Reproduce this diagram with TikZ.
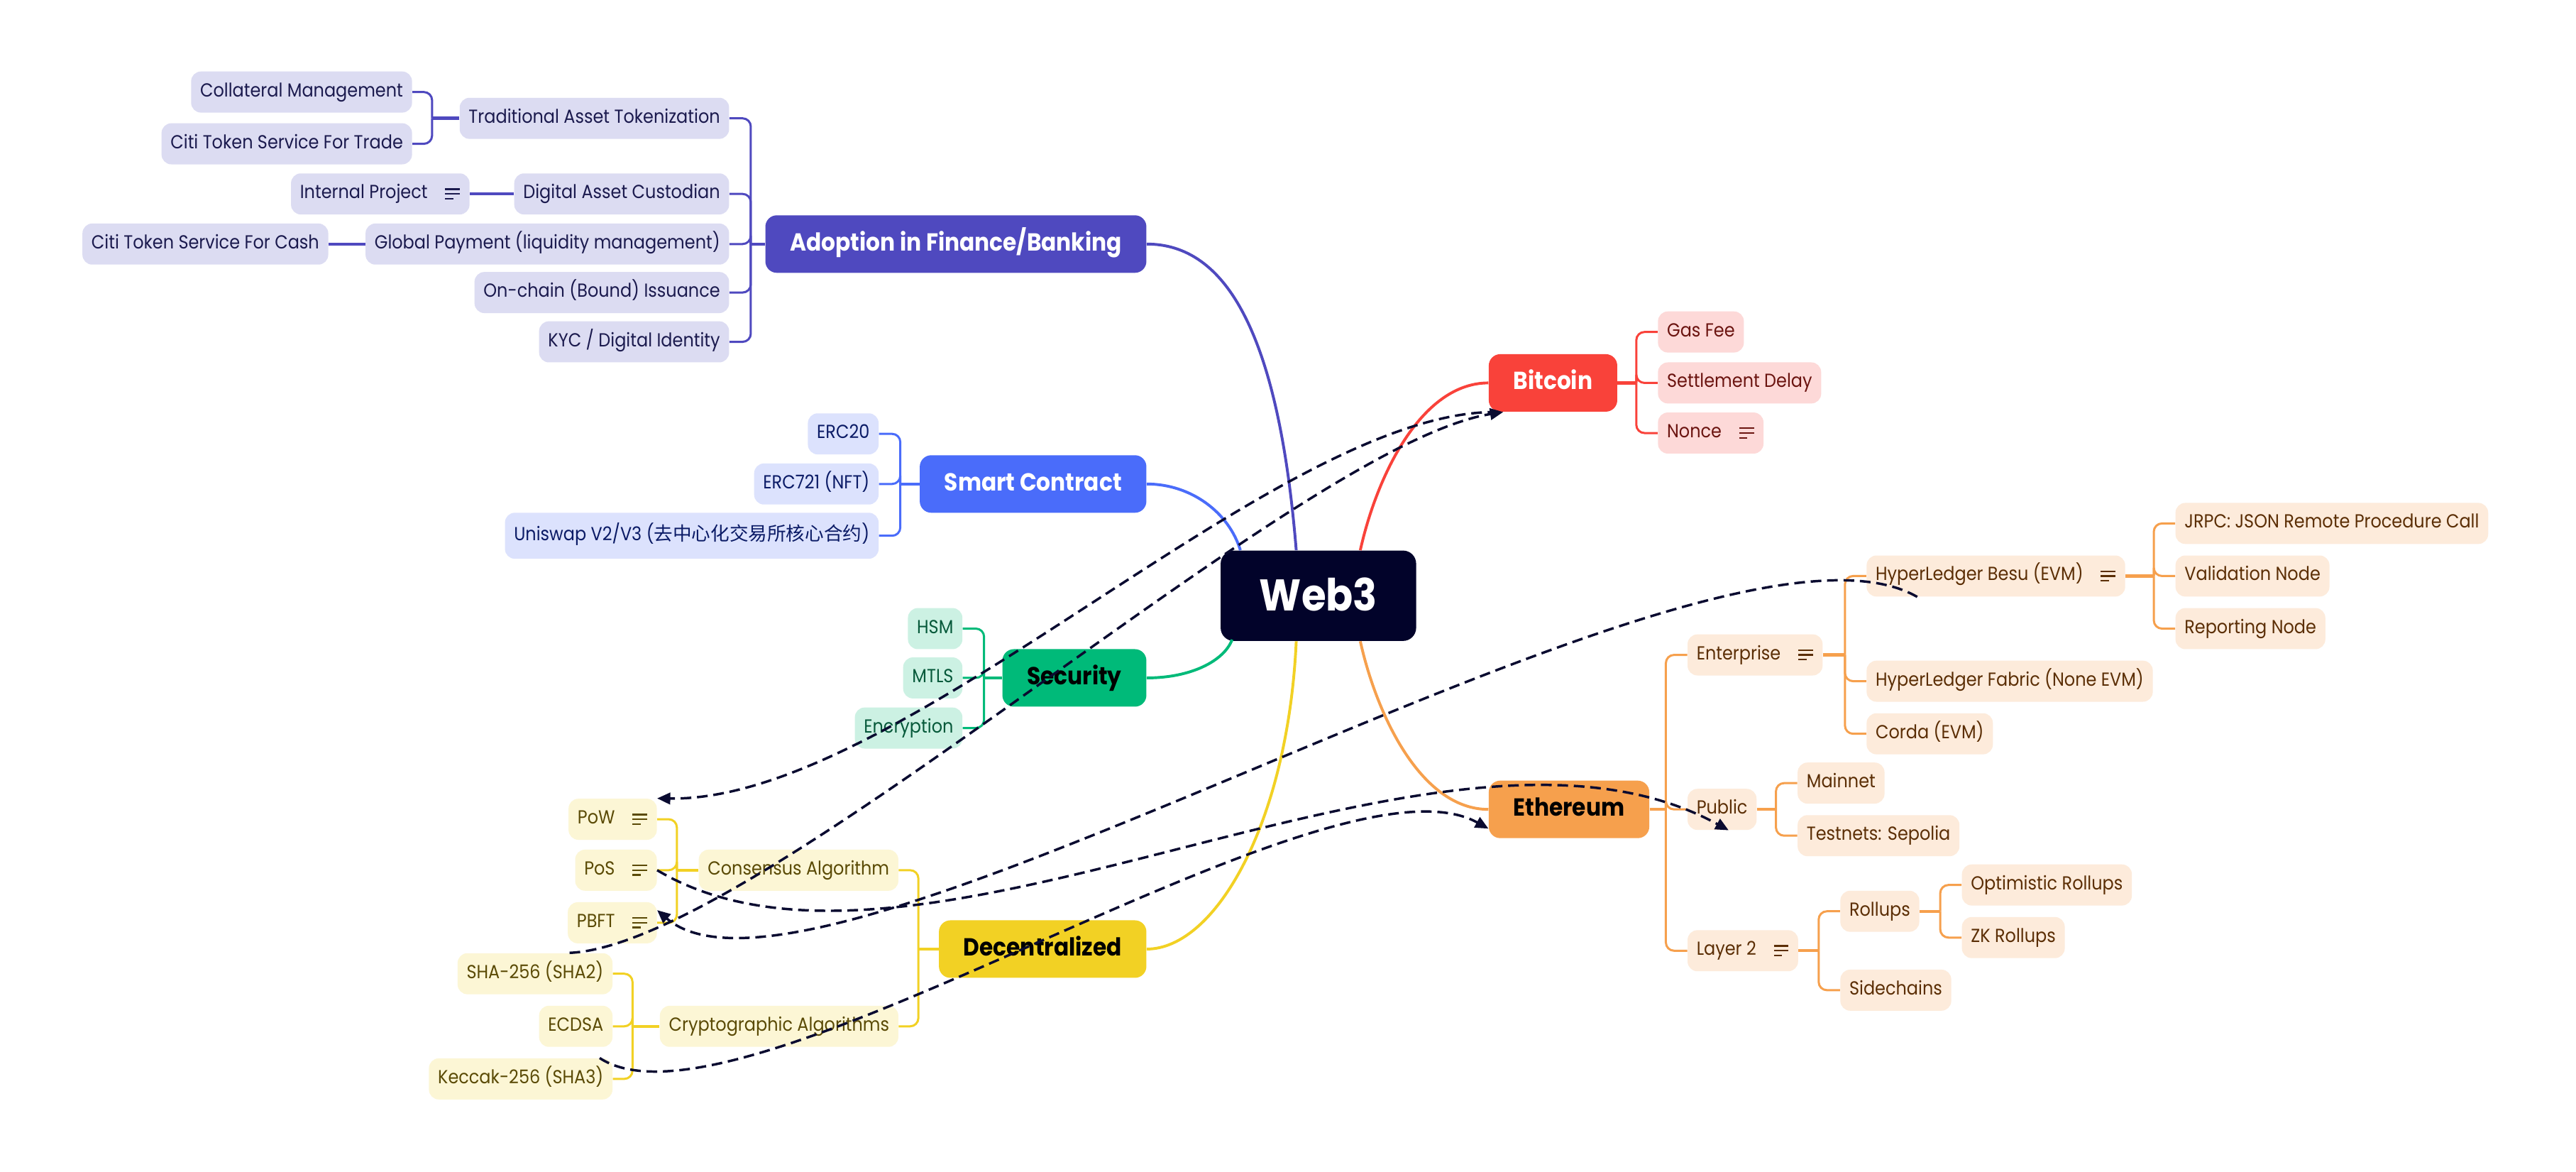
\documentclass[tikz,border=0pt]{standalone}
\usepackage{fontspec}
\setmainfont{Poppins}[FakeStretch=0.9]
\newfontfamily\cjk{Noto Sans CJK SC}
\usetikzlibrary{calc,arrows.meta}

\definecolor{rootc}{HTML}{02032A}
\definecolor{finc}{HTML}{4F49BF}
\definecolor{finl}{HTML}{DCDCF2}
\definecolor{fint}{HTML}{1B1A4E}
\definecolor{scc}{HTML}{4A6CFA}
\definecolor{scl}{HTML}{DCE2FD}
\definecolor{sct}{HTML}{0B1B66}
\definecolor{secc}{HTML}{00BA79}
\definecolor{secl}{HTML}{CCF1E3}
\definecolor{sect}{HTML}{06593A}
\definecolor{decc}{HTML}{F2D124}
\definecolor{decl}{HTML}{FCF6D5}
\definecolor{dect}{HTML}{5A4A05}
\definecolor{btcc}{HTML}{F9423A}
\definecolor{btcl}{HTML}{FDD9D8}
\definecolor{btct}{HTML}{6B1410}
\definecolor{ethc}{HTML}{F6A04D}
\definecolor{ethl}{HTML}{FDEBDB}
\definecolor{etht}{HTML}{5B2E05}
\definecolor{relc}{HTML}{0A0B30}

\tikzset{
  root/.style={fill=rootc,text=white,rounded corners=8pt,minimum width=119pt,minimum height=55pt,
    text height=19pt,text depth=1pt,font=\fontsize{27}{30}\selectfont\bfseries},
  topic/.style={fill=#1,rounded corners=7pt,minimum height=35pt,inner xsep=15pt,inner ysep=0pt,
    text height=11pt,text depth=3pt,font=\fontsize{15}{18}\selectfont\bfseries},
  leaf/.style={fill=#1,rounded corners=6pt,minimum height=25pt,inner xsep=5.5pt,inner ysep=0pt,
    text height=8.3pt,text depth=2.7pt,font=\fontsize{11.5}{13}\selectfont},
  finleaf/.style={leaf=finl,text=fint},
  scleaf/.style={leaf=scl,text=sct},
  secleaf/.style={leaf=secl,text=sect},
  decleaf/.style={leaf=decl,text=dect},
  btcleaf/.style={leaf=btcl,text=btct},
  ethleaf/.style={leaf=ethl,text=etht},
  branch/.style={draw=#1,line width=1.7pt},
  stub/.style={draw=#1,line width=1.9pt},
  twig/.style={draw=#1,line width=1.3pt,rounded corners=5pt},
  rel/.style={draw=relc,line width=1.5pt,dash pattern=on 6.5pt off 3.5pt,-{Triangle[length=8pt,width=7pt]}},
  noteicon/.pic={\draw[line width=1pt] (-4.5,-2.9) -- (4.5,-2.9) (-4.5,0) -- (4.5,0) (-4.5,2.9) -- (0.5,2.9);}
}
\newcommand\gap{\hspace*{20pt}}

\begin{document}
\begin{tikzpicture}[x=1pt,y=-1pt]
        \useasboundingbox (0,0) rectangle (1568,713);
        \fill[white] (0,0) rectangle (1568,713);
        \node[root] (web3) at (802.5,362.5) {Web3};

        \node[topic=finc,text=white,anchor=east] (fin) at (698,148.5) {Adoption in Finance/Banking};
        \node[finleaf,anchor=east] (trad) at (444,72) {Traditional Asset Tokenization};
        \node[finleaf,anchor=east] (custod) at (444,118) {Digital Asset Custodian};
        \node[finleaf,anchor=east] (gpay) at (444,148.5) {Global Payment (liquidity management)};
        \node[finleaf,anchor=east] (onchain) at (444,178) {On-chain (Bound) Issuance};
        \node[finleaf,anchor=east] (kyc) at (444,208) {KYC / Digital Identity};
        \node[finleaf,anchor=east] (collat) at (251,56) {Collateral Management};
        \node[finleaf,anchor=east] (ctstrade) at (251,87.5) {Citi Token Service For Trade};
        \node[finleaf,anchor=east] (intproj) at (286,118) {Internal Project\gap};
        \node[finleaf,anchor=east] (ctscash) at (200,148.5) {Citi Token Service For Cash};

        \node[topic=scc,text=white,anchor=east] (sc) at (698,294.5) {Smart Contract};
        \node[scleaf,anchor=east] (erc20) at (535,264) {ERC20};
        \node[scleaf,anchor=east] (erc721) at (535,294.5) {ERC721 (NFT)};
        \node[scleaf,anchor=east,minimum height=28pt] (uniswap) at (535,326) {Uniswap V2/V3 ({\cjk 去中心化交易所核心合约})};

        \node[topic=secc,text=black,anchor=east] (sec) at (698,412.5) {Security};
        \node[secleaf,anchor=east] (hsm) at (586,382.5) {HSM};
        \node[secleaf,anchor=east] (mtls) at (586,412.5) {MTLS};
        \node[secleaf,anchor=east] (encrypt) at (586,443) {Encryption};

        \node[topic=decc,text=black,anchor=east] (dec) at (698,577.5) {Decentralized};
        \node[decleaf,anchor=east] (consensus) at (547,529.5) {Consensus Algorithm};
        \node[decleaf,anchor=east] (crypto) at (547,624.5) {Cryptographic Algorithms};
        \node[decleaf,anchor=east] (pow) at (400,498.5) {PoW\gap};
        \node[decleaf,anchor=east] (pos) at (400,529.5) {PoS\gap};
        \node[decleaf,anchor=east] (pbft) at (400,561.5) {PBFT\gap};
        \node[decleaf,anchor=east] (sha2) at (373,592.5) {SHA-256 (SHA2)};
        \node[decleaf,anchor=east] (ecdsa) at (373,624.5) {ECDSA};
        \node[decleaf,anchor=east] (keccak) at (373,656.5) {Keccak-256 (SHA3)};

        \node[topic=btcc,text=white,anchor=west] (btc) at (906,233) {Bitcoin};
        \node[btcleaf,anchor=west] (gasfee) at (1009,202) {Gas Fee};
        \node[btcleaf,anchor=west] (settle) at (1009,233) {Settlement Delay};
        \node[btcleaf,anchor=west] (nonce) at (1009,263.5) {Nonce\gap};

        \node[topic=ethc,text=black,anchor=west] (eth) at (906,492.5) {Ethereum};
        \node[ethleaf,anchor=west] (enterprise) at (1027,398.5) {Enterprise\gap};
        \node[ethleaf,anchor=west] (public) at (1027,492.5) {Public};
        \node[ethleaf,anchor=west] (layer2) at (1027,578.5) {Layer 2\gap};
        \node[ethleaf,anchor=west] (besu) at (1136,350.5) {HyperLedger Besu (EVM)\gap};
        \node[ethleaf,anchor=west] (fabric) at (1136,414.5) {HyperLedger Fabric (None EVM)};
        \node[ethleaf,anchor=west] (corda) at (1136,446.5) {Corda (EVM)};
        \node[ethleaf,anchor=west] (jrpc) at (1324,318.5) {JRPC: JSON Remote Procedure Call};
        \node[ethleaf,anchor=west] (validnode) at (1324,350.5) {Validation Node};
        \node[ethleaf,anchor=west] (reportnode) at (1324,382.5) {Reporting Node};
        \node[ethleaf,anchor=west] (mainnet) at (1094,476.5) {Mainnet};
        \node[ethleaf,anchor=west] (sepolia) at (1094,508.5) {Testnets: Sepolia};
        \node[ethleaf,anchor=west] (rollups) at (1120,554.5) {Rollups};
        \node[ethleaf,anchor=west] (sidechains) at (1120,602.5) {Sidechains};
        \node[ethleaf,anchor=west] (optroll) at (1194,538.5) {Optimistic Rollups};
        \node[ethleaf,anchor=west] (zkroll) at (1194,570.5) {ZK Rollups};

        \foreach \n/\col in {intproj/fint,pow/dect,pos/dect,pbft/dect,nonce/btct,enterprise/etht,besu/etht,layer2/etht}
                \pic[color=\col] at ([xshift=-10.5pt]\n.east) {noteicon};

        \draw[branch=finc] ($(web3.north)+(-13.5,0)$) .. controls +(-11,-135) and +(47,0) .. (fin.east);
        \draw[branch=scc] ($(web3.north)+(-47.5,0)$) .. controls +(-7,-23) and +(27,0) .. (sc.east);
        \draw[branch=secc] ($(web3.south)+(-52.5,-1)$) .. controls +(-5,13) and +(27,0) .. (sec.east);
        \draw[branch=decc] ($(web3.south)+(-13.5,0)$) .. controls +(-5,110) and +(42,0) .. (dec.east);
        \draw[branch=btcc] ($(web3.north)+(25.5,0)$) .. controls +(10,-45) and +(-41,0) .. (btc.west);
        \draw[branch=ethc] ($(web3.south)+(25.5,0)$) .. controls +(10,45) and +(-41,0) .. (eth.west);

        \coordinate (finS) at ($(fin.west -| trad.east)+(13,0)$);
        \draw[stub=finc] (fin.west) -- (finS);
        \foreach \c in {trad,custod,gpay,onchain,kyc} \draw[twig=finc] (finS) |- (\c.east);
        \coordinate (tradS) at ($(trad.west -| collat.east)+(12,0)$);
        \draw[stub=finc] (trad.west) -- (tradS);
        \foreach \c in {collat,ctstrade} \draw[twig=finc] (tradS) |- (\c.east);
        \draw[stub=finc] (custod.west) -- (intproj.east);
        \draw[stub=finc] (gpay.west) -- (ctscash.east);

        \coordinate (scS) at ($(sc.west -| erc20.east)+(13,0)$);
        \draw[stub=scc] (sc.west) -- (scS);
        \foreach \c in {erc20,erc721,uniswap} \draw[twig=scc] (scS) |- (\c.east);

        \coordinate (secS) at ($(sec.west -| hsm.east)+(13,0)$);
        \draw[stub=secc] (sec.west) -- (secS);
        \foreach \c in {hsm,mtls,encrypt} \draw[twig=secc] (secS) |- (\c.east);

        \coordinate (decS) at ($(dec.west -| consensus.east)+(12,0)$);
        \draw[stub=decc] (dec.west) -- (decS);
        \foreach \c in {consensus,crypto} \draw[twig=decc] (decS) |- (\c.east);
        \coordinate (consS) at ($(consensus.west -| pow.east)+(12,0)$);
        \draw[stub=decc] (consensus.west) -- (consS);
        \foreach \c in {pow,pos,pbft} \draw[twig=decc] (consS) |- (\c.east);
        \coordinate (cryS) at ($(crypto.west -| sha2.east)+(12,0)$);
        \draw[stub=decc] (crypto.west) -- (cryS);
        \foreach \c in {sha2,ecdsa,keccak} \draw[twig=decc] (cryS) |- (\c.east);

        \coordinate (btcS) at ($(btc.east -| gasfee.west)+(-13,0)$);
        \draw[stub=btcc] (btc.east) -- (btcS);
        \foreach \c in {gasfee,settle,nonce} \draw[twig=btcc] (btcS) |- (\c.west);

        \coordinate (ethS) at ($(eth.east -| enterprise.west)+(-13,0)$);
        \draw[stub=ethc] (eth.east) -- (ethS);
        \foreach \c in {enterprise,public,layer2} \draw[twig=ethc] (ethS) |- (\c.west);
        \coordinate (entS) at ($(enterprise.east -| besu.west)+(-13,0)$);
        \draw[stub=ethc] (enterprise.east) -- (entS);
        \foreach \c in {besu,fabric,corda} \draw[twig=ethc] (entS) |- (\c.west);
        \coordinate (besuS) at ($(besu.east -| jrpc.west)+(-13,0)$);
        \draw[stub=ethc] (besu.east) -- (besuS);
        \foreach \c in {jrpc,validnode,reportnode} \draw[twig=ethc] (besuS) |- (\c.west);
        \coordinate (pubS) at ($(public.east -| mainnet.west)+(-13,0)$);
        \draw[stub=ethc] (public.east) -- (pubS);
        \foreach \c in {mainnet,sepolia} \draw[twig=ethc] (pubS) |- (\c.west);
        \coordinate (l2S) at ($(layer2.east -| rollups.west)+(-13,0)$);
        \draw[stub=ethc] (layer2.east) -- (l2S);
        \foreach \c in {rollups,sidechains} \draw[twig=ethc] (l2S) |- (\c.west);
        \coordinate (rollS) at ($(rollups.east -| optroll.west)+(-13,0)$);
        \draw[stub=ethc] (rollups.east) -- (rollS);
        \foreach \c in {optroll,zkroll} \draw[twig=ethc] (rollS) |- (\c.west);

        \draw[rel] ([xshift=6pt]btc.south west) .. controls +(-135,-2) and +(150,2) .. (pow.north east);
        \draw[rel] ([xshift=21pt]sha2.north) .. controls +(115,-5) and +(-125,20) .. ([xshift=9pt]btc.south west);
        \draw[rel] (pos.east) .. controls +(160,95) and +(-177,-97) .. ([xshift=4pt]public.south);
        \draw[rel] ([xshift=31pt]besu.south west) .. controls +(-127,-73) and +(98,85) .. ([yshift=-5pt]pbft.north east);
        \draw[rel] ([xshift=-8pt]keccak.north east) .. controls +(85,56) and +(-98,-54) .. ([yshift=6pt]eth.south west);
\end{tikzpicture}
\end{document}
